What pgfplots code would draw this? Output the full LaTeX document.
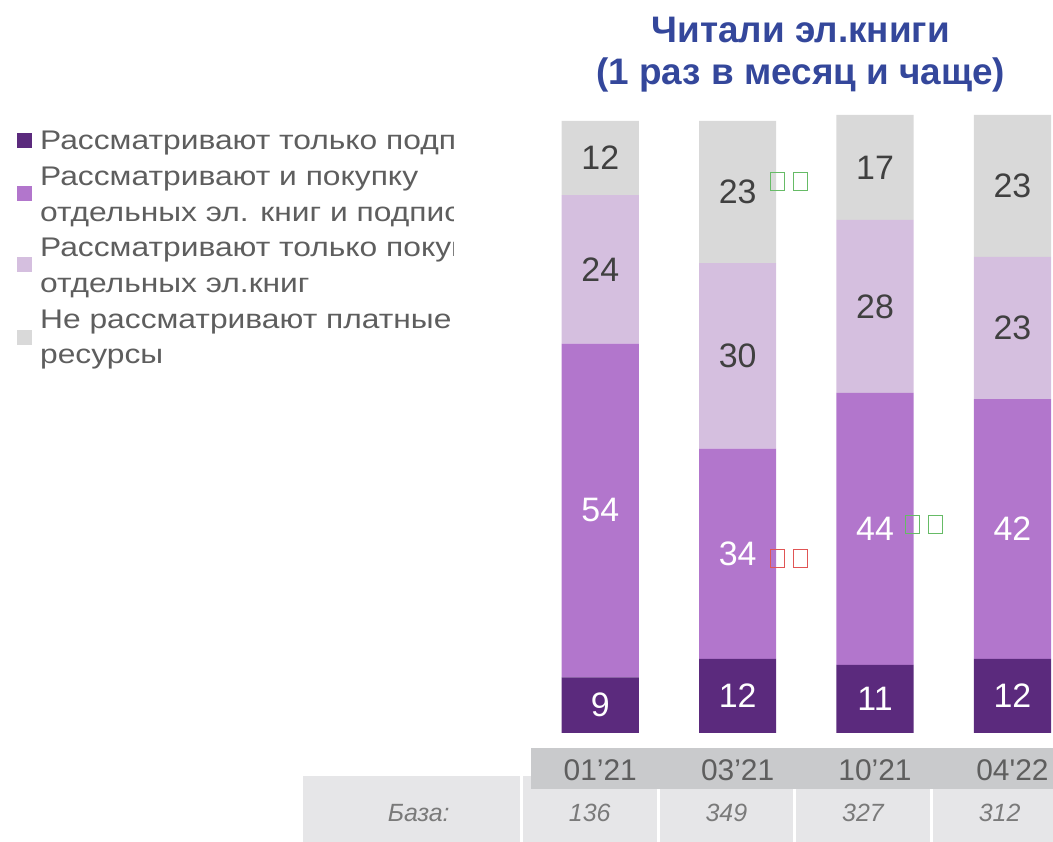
\documentclass[border=0pt]{standalone}
\usepackage{fontspec}
\setmainfont{Liberation Sans}
\newfontfamily\legfont[FakeStretch=1.18]{Liberation Sans}
\usepackage{pgfplots}
\pgfplotsset{compat=1.18}
\usepackage{pgfplotstable}
\definecolor{cDark}{HTML}{5B2A7D}
\definecolor{cMed}{HTML}{B276CC}
\definecolor{cLight}{HTML}{D5BFDF}
\definecolor{cGray}{HTML}{D9D9D9}
\definecolor{cTitle}{HTML}{34479B}
\definecolor{cText}{HTML}{5E5E5E}
\definecolor{cLab}{HTML}{404040}
\definecolor{cHead}{HTML}{C9CACC}
\definecolor{cBase}{HTML}{E6E6E8}
\definecolor{cBaseTxt}{HTML}{7A7A7A}
\definecolor{cGreen}{HTML}{66BB66}
\definecolor{cRed}{HTML}{E05555}

\pgfplotstableread{
x v
0 9
1 12
2 11
3 12
}\onlysub
\pgfplotstableread{
x v
0 54
1 34
2 44
3 42
}\both
\pgfplotstableread{
x v
0 24
1 30
2 28
3 23
}\onlybuy
\pgfplotstableread{
x v
0 12
1 23
2 17
3 23
}\nopaid

\begin{document}
\begin{tikzpicture}
\begin{scope}[x=0.75pt,y=-0.75pt]
\path[use as bounding box] (0,0) rectangle (1053,844);
% base row
\fill[cBase] (304,778) rectangle (1060,844);
\fill[white] (521.5,778) rectangle (524.5,844);
\foreach \sx in {660,797,934} \fill[white] (\sx-1.5,790) rectangle (\sx+1.5,844);
\fill[cHead] (533,750) rectangle (1060,791);
\node[font=\itshape\fontsize{18.75}{22}\selectfont, text=cBaseTxt] at (420,815) {База:};
\node[font=\itshape\fontsize{18.75}{22}\selectfont, text=cBaseTxt] at (591.5,815) {136};
\node[font=\itshape\fontsize{18.75}{22}\selectfont, text=cBaseTxt] at (728.5,815) {349};
\node[font=\itshape\fontsize{18.75}{22}\selectfont, text=cBaseTxt] at (865.5,815) {327};
\node[font=\itshape\fontsize{18.75}{22}\selectfont, text=cBaseTxt] at (1002.5,815) {312};
% title
\node[font=\bfseries\fontsize{27.75}{31.5}\selectfont, text=cTitle, align=center] at (803,55) {Читали эл.книги\\(1 раз в месяц и чаще)};
% legend
\fill[cDark] (17,133.5) rectangle (32,148.5);
\fill[cMed] (17,186.5) rectangle (32,201.5);
\fill[cLight] (17,257.5) rectangle (32,272.5);
\fill[cGray] (17,330.5) rectangle (32,345.5);
\begin{scope}
\clip (0,100) rectangle (455,400);
\tikzset{lg/.style={anchor=base west, inner sep=0pt, font=\legfont\fontsize{20.25}{24}\selectfont, text=cText}}
\node[lg] at (40,150) {Рассматривают только подписку};
\node[lg] at (40,185.8) {Рассматривают и покупку};
\node[lg] at (40,221.6) {отдельных эл. книг и подписку};
\node[lg] at (40,257.4) {Рассматривают только покупку};
\node[lg] at (40,293.2) {отдельных эл.книг};
\node[lg] at (40,329) {Не рассматривают платные};
\node[lg] at (40,364.8) {ресурсы};
\end{scope}
\end{scope}
\begin{axis}[
  at={(0,0)}, anchor=north west,
  scale only axis, width=789.75pt, height=633pt,
  xmin=-4.3687, xmax=3.2729, ymin=-17.58, ymax=118.55,
  ybar stacked, bar width=58pt,
  axis line style={draw=none}, major tick length=0pt,
  ytick=\empty, xtick={0,1,2,3},
  xticklabels={01’21,03’21,10’21,04\textquotesingle 22},
  xticklabel style={font=\fontsize{22.5}{27}\selectfont, text=cText, anchor=center, yshift=53.5pt},
  clip=false,
  nodes near coords,
  point meta=explicit,
  /pgf/number format/assume math mode=true,
  every node near coord/.append style={font=\fontsize{25.5}{30}\selectfont, anchor=center},
]
\addplot[fill=cDark, draw=none, every node near coord/.append style={text=white}] table[x=x,y=v,meta=v]{\onlysub};
\addplot[fill=cMed, draw=none, every node near coord/.append style={text=white}] table[x=x,y=v,meta=v]{\both};
\addplot[fill=cLight, draw=none, every node near coord/.append style={text=cLab}] table[x=x,y=v,meta=v]{\onlybuy};
\addplot[fill=cGray, draw=none, every node near coord/.append style={text=cLab}] table[x=x,y=v,meta=v]{\nopaid};
\end{axis}
\begin{scope}[x=0.75pt,y=-0.75pt, line width=0.9pt]
\draw[cGreen] (772.5,173) rectangle (786.5,191);
\draw[cGreen] (795.5,173) rectangle (809.5,191);
\draw[cRed] (772.5,551) rectangle (786.5,569);
\draw[cRed] (795.5,551) rectangle (809.5,569);
\draw[cGreen] (908.5,517) rectangle (922.5,535);
\draw[cGreen] (931.5,517) rectangle (945.5,535);
\end{scope}
\end{tikzpicture}
\end{document}
